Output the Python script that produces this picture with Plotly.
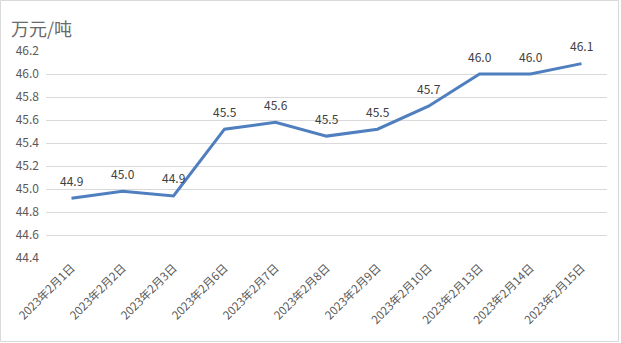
import plotly.graph_objects as go

categories = ["2023年2月1日", "2023年2月2日", "2023年2月3日", "2023年2月6日", "2023年2月7日",
              "2023年2月8日", "2023年2月9日", "2023年2月10日", "2023年2月13日", "2023年2月14日",
              "2023年2月15日"]
values = [44.92, 44.98, 44.94, 45.52, 45.58, 45.46, 45.52, 45.72, 46.0, 46.0, 46.09]
y_ticks = [44.4, 44.6, 44.8, 45.0, 45.2, 45.4, 45.6, 45.8, 46.0, 46.2]

W, H = 621, 343
L, R, T, B = 46, 14, 51, 85
pw, ph = W - L - R, H - T - B

font = "'Noto Sans CJK SC', sans-serif"

fig = go.Figure()
fig.add_trace(go.Scatter(
    x=categories, y=values, mode="lines",
    line=dict(color="#4F7FBF", width=3),
    hoverinfo="skip",
))

for c, v in zip(categories, values):
    fig.add_annotation(x=c, y=v, text=f"{v:.1f}", showarrow=False, yshift=18,
                       yanchor="middle", xanchor="center",
                       font=dict(size=12, color="#404040", family=font))

def px_x(p):
    return (p - L) / pw

def px_y(p):
    return (H - B - p) / ph

fig.update_layout(
    width=W, height=H,
    margin=dict(l=L, r=R, t=T, b=B, autoexpand=False),
    paper_bgcolor="white", plot_bgcolor="white",
    showlegend=False,
    font=dict(family=font, color="#595959"),
    title=dict(text="万元/吨", x=11 / W, xanchor="left", y=1 - 30 / H, yanchor="middle",
               font=dict(size=18, color="#6A6A6A", family=font)),
    xaxis=dict(type="category", tickangle=-45, showgrid=False, zeroline=False, automargin=False,
               range=[-0.5, len(categories) - 0.5],
               showline=False, ticks="", tickfont=dict(size=11.5, color="#595959", family=font)),
    yaxis=dict(range=[44.4, 46.2], tickvals=y_ticks, ticktext=[f"{v:.1f}" for v in y_ticks],
               showgrid=True, gridcolor="#D9D9D9", gridwidth=1, zeroline=False, automargin=False,
               showline=False, ticks="", ticklabelstandoff=6,
               tickfont=dict(size=12, color="#595959", family=font)),
    shapes=[dict(type="rect", xref="paper", yref="paper",
                 x0=px_x(0.5), x1=px_x(618.5), y0=px_y(341.5), y1=px_y(0.5),
                 line=dict(color="#D9D9D9", width=1), fillcolor="rgba(0,0,0,0)", layer="below")],
)

fig.write_html("out.html")
